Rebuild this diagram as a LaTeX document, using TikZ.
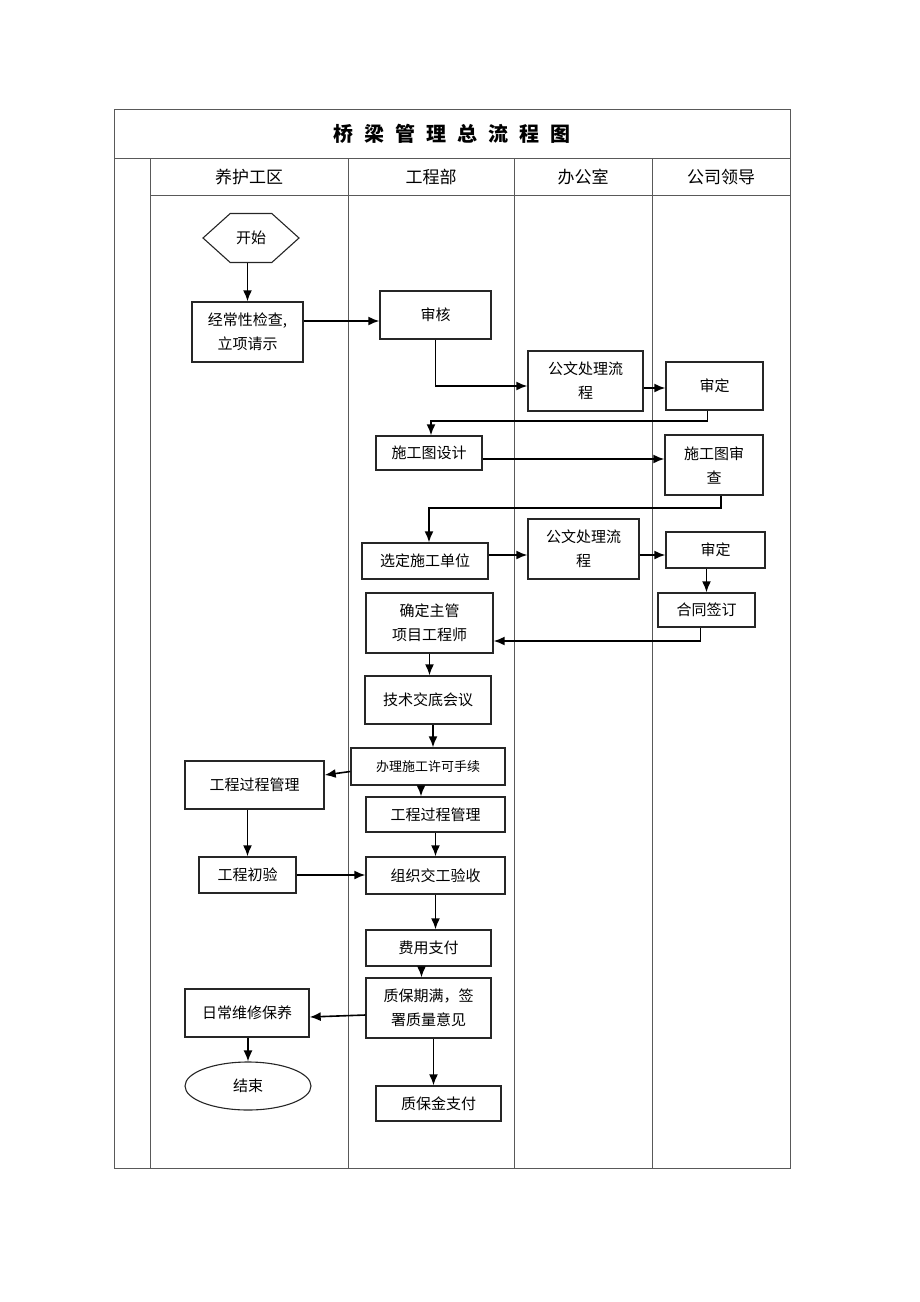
\documentclass[tikz,border=0pt]{standalone}
\usepackage{fontspec}
\setmainfont{Noto Sans CJK SC}
\usepackage{tikz}
\usetikzlibrary{arrows.meta,shapes,positioning}
\tikzset{
    basic/.style  = {draw=black!85, line width=1.4pt, font=\fontsize{15}{24}\selectfont, inner sep=0pt, align=center},
    box/.style    = {basic, rectangle},
    startnode/.style = {basic, line width=1.1pt, signal, signal to=west and east, signal pointer angle=84},
    endnode/.style   = {basic, line width=1.1pt, ellipse},
    lane/.style   = {draw=black!65, line width=0.9pt},
    flow/.style   = {->, line width=1.6pt, black}
}
\newcommand{\tsp}{\hspace{11pt}}

\begin{document}
\begin{tikzpicture}[x=1pt, y=-1pt, >={Latex[length=11pt,width=9pt]}]
	\useasboundingbox (0,0) rectangle (920,1302);
	% swim lanes
	\draw[lane] (114,109) rectangle (790,1168);
	\draw[lane] (114,158) -- (790,158);
	\draw[lane] (150,195) -- (790,195);
	\foreach \x in {150,348,514,652}
		\draw[lane] (\x,158) -- (\x,1168);
	\node[font=\fontsize{20}{24}\selectfont\bfseries] (title) at (452,134)
		{桥\tsp 梁\tsp 管\tsp 理\tsp 总\tsp 流\tsp 程\tsp 图};
	\begin{scope}[every node/.style={font=\fontsize{17}{20}\selectfont}]
		\node (laneA) at (249,177) {养护工区};
		\node (laneB) at (431,177) {工程部};
		\node (laneC) at (583,177) {办公室};
		\node (laneD) at (721,177) {公司领导};
	\end{scope}
	% nodes
	\node[startnode, minimum width=96pt, minimum height=49pt] (kaishi) at (251,238) {开始};
	\node[box, minimum width=111pt, minimum height=60pt] (jc) at (247.5,332) {经常性检查,\\立项请示};
	\node[box, minimum width=111pt, minimum height=48pt] (sh) at (435.5,315) {审核};
	\node[box, minimum width=115pt, minimum height=60pt] (gw1) at (585.5,381) {公文处理流\\程};
	\node[box, minimum width=97pt, minimum height=48pt] (sd1) at (714.5,386) {审定};
	\node[box, minimum width=106pt, minimum height=34pt] (sgtsj) at (429,453) {施工图设计};
	\node[box, minimum width=98pt, minimum height=60pt] (sgtsc) at (714,465) {施工图审\\查};
	\node[box, minimum width=126pt, minimum height=36pt] (xd) at (425,561) {选定施工单位};
	\node[box, minimum width=111pt, minimum height=60pt] (gw2) at (583.5,549) {公文处理流\\程};
	\node[box, minimum width=99pt, minimum height=36pt] (sd2) at (715.5,550) {审定};
	\node[box, minimum width=97pt, minimum height=34pt] (htqd) at (706.5,610) {合同签订};
	\node[box, minimum width=127pt, minimum height=60pt] (qdzg) at (429.5,623) {确定主管\\项目工程师};
	\node[box, minimum width=126pt, minimum height=48pt] (jsjd) at (428,700) {技术交底会议};
	\node[box, minimum width=154pt, minimum height=37pt, font=\fontsize{13}{16}\selectfont] (blsg) at (428,766.5) {办理施工许可手续};
	\node[box, minimum width=139pt, minimum height=48pt] (gcgl1) at (254.5,785) {工程过程管理};
	\node[box, minimum width=139pt, minimum height=35pt] (gcgl2) at (435.5,814.5) {工程过程管理};
	\node[box, minimum width=97pt, minimum height=36pt] (gccy) at (247.5,875) {工程初验};
	\node[box, minimum width=139pt, minimum height=37pt] (zzjg) at (435.5,875.5) {组织交工验收};
	\node[box, minimum width=125pt, minimum height=36pt] (fyzf) at (428.5,948) {费用支付};
	\node[box, minimum width=125pt, minimum height=60pt] (zbqm) at (428.5,1008) {质保期满，签\\署质量意见};
	\node[box, minimum width=124pt, minimum height=48pt] (rcwx) at (247,1013) {日常维修保养};
	\node[endnode, minimum width=126pt, minimum height=48pt] (jieshu) at (248,1086) {结束};
	\node[box, minimum width=125pt, minimum height=35pt] (zbjzf) at (438.5,1103.5) {质保金支付};
	% connectors
	\draw[flow] (jc.north |- kaishi.south) -- (jc.north);
	\draw[flow] ([yshift=11pt]jc.east) -- ([yshift=11pt]jc.east -| sh.west);
	\draw[flow] (sh.south) |- ([yshift=-5pt]gw1.west);
	\draw[flow] ([yshift=-7pt]gw1.east) -- ([yshift=-7pt]gw1.east -| sd1.west);
	\draw[flow] ([xshift=-7pt]sd1.south) -- ++(0,10) -| ([xshift=2pt]sgtsj.north);
	\draw[flow] ([yshift=-6pt]sgtsj.east) -- ([yshift=-6pt]sgtsj.east -| sgtsc.west);
	\draw[flow] ([xshift=7pt]sgtsc.south) -- ++(0,12) -| ([xshift=4pt]xd.north);
	\draw[flow] ([yshift=6pt]xd.east) -- ([yshift=6pt]xd.east -| gw2.west);
	\draw[flow] ([yshift=-6pt]gw2.east) -- ([yshift=-6pt]gw2.east -| sd2.west);
	\draw[flow] (htqd.north |- sd2.south) -- (htqd.north);
	\draw[flow] ([xshift=-6pt]htqd.south) |- ([yshift=-18pt]qdzg.east);
	\draw[flow] (qdzg.south) -- (qdzg.south |- jsjd.north);
	\draw[flow] ([xshift=5pt]jsjd.south) -- ([xshift=5pt]jsjd.south |- blsg.north);
	\draw[flow] ([yshift=-5pt]blsg.west) -- ([yshift=10pt]gcgl1.east);
	\draw[flow] ([xshift=-7pt]blsg.south) -- ([xshift=-7pt]blsg.south |- gcgl2.north);
	\draw[flow] (gcgl2.south) -- (gcgl2.south |- zzjg.north);
	\draw[flow] (gccy.north |- gcgl1.south) -- (gccy.north);
	\draw[flow] (gccy.east) -- (gccy.east -| zzjg.west);
	\draw[flow] (zzjg.south) -- (zzjg.south |- fyzf.north);
	\draw[flow] ([xshift=-7pt]fyzf.south) -- ([xshift=-7pt]fyzf.south |- zbqm.north);
	\draw[flow] ([yshift=-7pt]zbqm.west) -- ([yshift=-4pt]rcwx.east);
	\draw[flow] ([xshift=5pt]zbqm.south) -- ([xshift=5pt]zbqm.south |- zbjzf.north);
	\draw[flow] (jieshu.north |- rcwx.south) -- (jieshu.north);
\end{tikzpicture}
\end{document}
